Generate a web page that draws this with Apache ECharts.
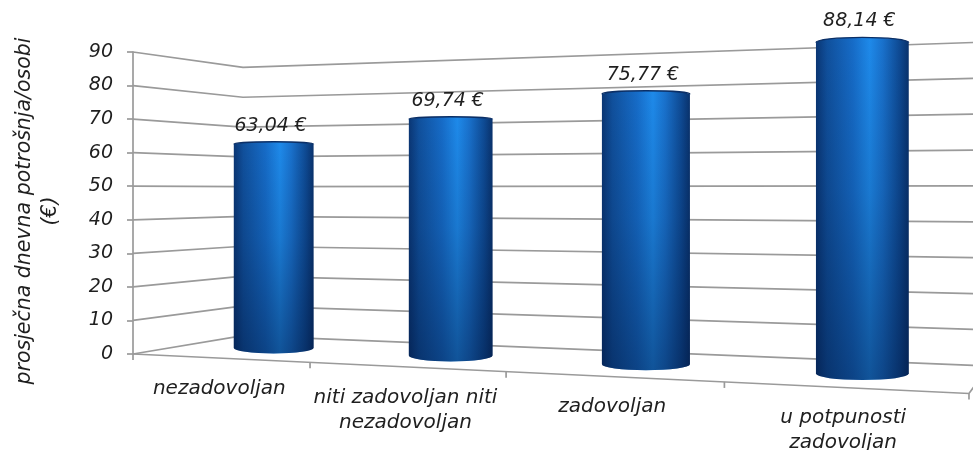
<!DOCTYPE html>
<html>
<head>
<meta charset="utf-8">
<script src="https://cdn.jsdelivr.net/npm/echarts@6/dist/echarts.min.js"></script>
<style>
  html, body { margin: 0; padding: 0; background: #ffffff; }
  #chart { width: 973px; height: 450px; }
</style>
</head>
<body>
<div id="chart"></div>
<script>
// ---- data ----
const categories = ['nezadovoljan', 'niti zadovoljan niti\nnezadovoljan', 'zadovoljan', 'u potpunosti\nzadovoljan'];
const spending = [63.04, 69.74, 75.77, 88.14];
const yTicks = [0, 10, 20, 30, 40, 50, 60, 70, 80, 90];
const yTitle = 'prosječna dnevna potrošnja/osobi\n(€)';

// ---- 3D box view ----
// X runs along the categories (0..4), Z runs from the front edge (0) to the back wall (1).
const VIEW = {
  p: -0.0485,        // depth change per category step
  q: 0.126,          // depth change from front to back
  shift: 140.6,      // horizontal offset of the back wall (px)
  eye: 48.9,         // eye height, in axis units
  barDepth: 0.5,     // bars stand halfway back
  barDiameter: 24.7  // cylinder diameter, in axis units
};

const FONT = 'DejaVu Sans';
const TEXT_COLOR = '#1f1f1f';
const GRID_COLOR = '#9a9a9a';
const GRID_WIDTH = 1.7;

function projector(api) {
  const yh = api.coord([0, VIEW.eye])[1];
  const unit = api.coord([0, 0])[1] - api.coord([0, 1])[1];
  const depth = (X, Z) => 1 + VIEW.p * X + VIEW.q * Z;
  return {
    point(X, Z, v) {
      const c = api.coord([X, v]);
      const D = depth(X, Z);
      return [(c[0] + VIEW.shift * Z) / D, yh + (c[1] - yh) / D];
    },
    scale(X, Z) { return unit / depth(X, Z); }
  };
}

const fmtValue = v => v.toFixed(2).replace('.', ',') + ' €';

// side wall + back wall lines for every value tick
function renderWallLine(params, api) {
  const pr = projector(api);
  const v = api.value(1);
  const nCat = categories.length;
  return {
    type: 'polyline',
    shape: { points: [pr.point(0, 0, v), pr.point(0, 1, v), pr.point(nCat, 1, v)] },
    style: { stroke: GRID_COLOR, lineWidth: GRID_WIDTH, fill: null },
    silent: true
  };
}

// front floor edge, right floor edge and category ticks
function renderFloor(params, api) {
  const pr = projector(api);
  const X = api.value(0);
  const nCat = categories.length;
  const p = pr.point(X, 0, 0);
  const children = [{
    type: 'line',
    shape: { x1: p[0], y1: p[1], x2: p[0], y2: p[1] + 6 },
    style: { stroke: GRID_COLOR, lineWidth: GRID_WIDTH }
  }];
  if (params.dataIndex === 0) {
    children.push({
      type: 'polyline',
      shape: { points: [pr.point(0, 0, 0), pr.point(nCat, 0, 0), pr.point(nCat, 1, 0)] },
      style: { stroke: GRID_COLOR, lineWidth: GRID_WIDTH, fill: null }
    });
  }
  return { type: 'group', children, silent: true };
}

// category names under the front edge
function renderCategory(params, api) {
  const pr = projector(api);
  const X = api.value(0);
  const p = pr.point(X, 0, 0);
  return {
    type: 'text',
    style: {
      text: categories[params.dataIndex],
      x: p[0], y: p[1] + 18,
      align: 'center', verticalAlign: 'top',
      fontFamily: FONT, fontSize: 20, fontStyle: 'italic',
      lineHeight: 25, fill: TEXT_COLOR
    },
    silent: true
  };
}

// cylinders with value labels
function renderBar(params, api) {
  const pr = projector(api);
  const X = api.value(0);
  const v = api.value(1);
  const Z = VIEW.barDepth;
  const base = pr.point(X, Z, 0);
  const top = pr.point(X, Z, v);
  const s = pr.scale(X, Z);
  const rx = VIEW.barDiameter * s / 2;
  const ryB = Math.max(3, 0.035 * VIEW.eye * s);
  const ryT = Math.max(2.5, 0.035 * (v - VIEW.eye) * s);
  const xl = base[0] - rx, xr = base[0] + rx;
  const yT = top[1], yB = base[1];
  const body = 'M' + xl + ' ' + yT +
    ' A' + rx + ' ' + ryT + ' 0 0 1 ' + xr + ' ' + yT +
    ' L' + xr + ' ' + yB +
    ' A' + rx + ' ' + ryB + ' 0 0 1 ' + xl + ' ' + yB + ' Z';
  const topArc = 'M' + xl + ' ' + yT + ' A' + rx + ' ' + ryT + ' 0 0 1 ' + xr + ' ' + yT;
  return {
    type: 'group',
    children: [
      {
        type: 'path',
        shape: { pathData: body },
        style: {
          fill: new echarts.graphic.LinearGradient(0, 0, 1, 0, [
            { offset: 0, color: '#0a3674' },
            { offset: 0.12, color: '#10509c' },
            { offset: 0.4, color: '#166cc8' },
            { offset: 0.58, color: '#1e8aea' },
            { offset: 0.72, color: '#1971cc' },
            { offset: 0.9, color: '#0e4a93' },
            { offset: 1, color: '#09326c' }
          ])
        }
      },
      {
        type: 'path',
        shape: { pathData: body },
        style: {
          fill: new echarts.graphic.LinearGradient(0, 0, 0, 1, [
            { offset: 0, color: 'rgba(0,18,55,0)' },
            { offset: 0.45, color: 'rgba(0,18,55,0.14)' },
            { offset: 1, color: 'rgba(0,18,55,0.45)' }
          ])
        }
      },
      {
        type: 'path',
        shape: { pathData: topArc },
        style: { fill: null, stroke: '#0b2f66', lineWidth: 1.4 }
      },
      {
        type: 'text',
        style: {
          text: fmtValue(v),
          x: top[0] - 3, y: yT - ryT - 16,
          align: 'center', verticalAlign: 'middle',
          fontFamily: FONT, fontSize: 19, fontStyle: 'italic',
          fill: TEXT_COLOR
        }
      }
    ],
    silent: true
  };
}

const chart = echarts.init(document.getElementById('chart'), null, { renderer: 'canvas' });

chart.setOption({
  animation: false,
  backgroundColor: '#ffffff',
  grid: { left: 133, top: 52, width: 648, height: 302, containLabel: false },
  xAxis: { type: 'value', min: 0, max: categories.length, show: false },
  yAxis: {
    type: 'value', min: 0, max: 90, interval: 10,
    axisLine: { show: true, lineStyle: { color: GRID_COLOR, width: GRID_WIDTH } },
    axisTick: { show: true, length: 6, lineStyle: { color: GRID_COLOR, width: GRID_WIDTH } },
    splitLine: { show: false },
    axisLabel: {
      margin: 20, fontFamily: FONT, fontSize: 19, fontStyle: 'italic', color: TEXT_COLOR
    }
  },
  graphic: [{
    type: 'text',
    x: 38, y: 211, rotation: Math.PI / 2,
    style: {
      text: yTitle, align: 'center', verticalAlign: 'middle',
      fontFamily: FONT, fontSize: 20.5, fontStyle: 'italic', lineHeight: 26, fill: TEXT_COLOR
    },
    silent: true
  }],
  series: [
    {
      type: 'custom', name: 'walls', z: 1, clip: false,
      renderItem: renderWallLine,
      data: yTicks.map(v => [0, v])
    },
    {
      type: 'custom', name: 'floor', z: 1, clip: false,
      renderItem: renderFloor,
      data: categories.concat(['']).map((c, i) => [i, 0])
    },
    {
      type: 'custom', name: 'categories', z: 3, clip: false,
      renderItem: renderCategory,
      data: categories.map((c, i) => [i + 0.5, 0])
    },
    {
      type: 'custom', name: 'spending', z: 2, clip: false,
      renderItem: renderBar,
      data: spending.map((v, i) => [i + 0.5, v])
    }
  ]
});
</script>
</body>
</html>
